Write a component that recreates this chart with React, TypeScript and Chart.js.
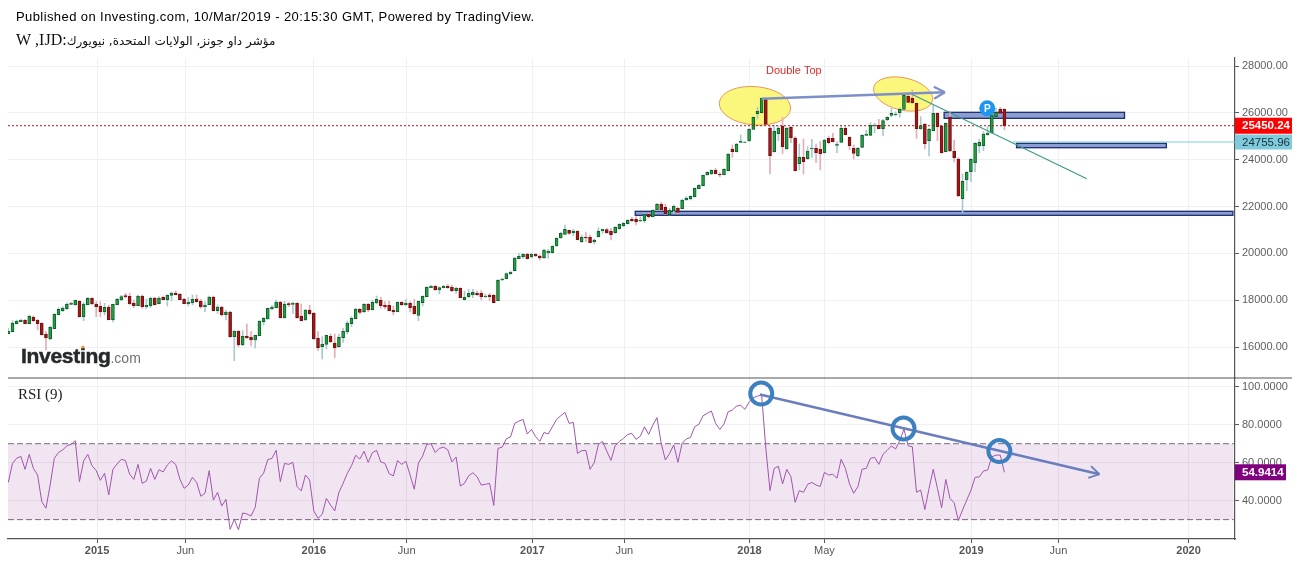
import React, { useEffect, useRef } from "react";
import { Chart, registerables } from "chart.js";

Chart.register(...registerables);

const opens = [16573,16659,17000,17085,17142,17000,17285,17142,17014,16545,16346,16787,17384,17555,17640,17825,17811,17953,17299,17811,18082,17840,17740,17498,17712,17171,17811,18010,18195,18167,17882,17769,18181,17726,17769,18096,17854,18124,18025,18210,18309,18267,18039,17854,17882,18053,17953,17726,17811,18138,17555,17712,17384,17498,16445,16687,16089,16459,16417,16303,16488,17085,17199,17640,17683,17925,17256,17854,17825,17868,17327,17157,17584,17455,16374,16018,16118,16459,16175,16018,16402,16659,17000,17214,17612,17512,17825,17598,17882,17996,17783,17783,17569,17512,17911,17811,17868,17740,17356,17897,18153,18537,18594,18437,18537,18594,18551,18409,18508,18025,18153,18238,18309,18295,18153,18224,18210,17982,18864,18921,19135,19263,19775,19860,19974,19846,19960,19889,19818,20017,20031,20316,20657,20814,20984,20871,20956,20501,20686,20686,20486,20714,20956,21013,20942,20885,21056,21184,21269,21454,21454,21383,21397,21667,21568,21852,22094,21966,21653,21824,21924,21909,22279,22322,22422,22763,22891,23346,23389,23546,23375,23361,23531,24457,24343,24741,24741,24798,25296,25965,26008,26577,25339,24343,25111,25438,24471,25381,24926,23830,24101,24044,24457,24485,24442,24300,24912,24912,24613,24741,25339,24955,24485,24158,24528,25040,25040,25453,25467,25325,25709,25894,25922,26008,26150,26705,26619,26406,25310,25509,24812,25239,25979,25438,24343,25823,24357,24030,22336,23133,23489,23873,24585,24599,25068,25154,25837,26150,26150];
const highs = [16801,17128,17157,17199,17185,17370,17327,17185,17043,16659,16900,17441,17683,17726,17897,17911,18010,17982,17897,18124,18110,17939,17939,17868,17783,17840,18096,18210,18295,18295,18010,18224,18224,18053,18138,18124,18153,18181,18238,18352,18395,18295,18082,18124,18224,18224,18039,17939,18181,18181,17797,17754,17584,17527,16701,16701,16701,16986,16659,16502,17128,17270,17669,17783,18010,17953,17953,17911,17925,17897,17840,17612,17783,17470,16659,16445,16502,16559,16559,16559,16801,17114,17299,17655,17655,17854,17868,18010,18181,18124,17939,17968,17754,17939,17939,18039,17939,18039,17982,18195,18580,18651,18637,18580,18651,18679,18651,18551,18537,18395,18466,18466,18395,18409,18267,18295,18252,18878,18935,19177,19248,19832,20003,20003,20003,20003,20003,19931,20173,20173,20330,20671,20899,21212,20999,21027,20970,20785,20913,20785,20614,21098,21027,21070,21070,21141,21269,21326,21440,21539,21568,21568,21710,21710,21867,22137,22180,22109,21924,22066,21952,22308,22422,22464,22806,22934,23346,23489,23574,23631,23446,23617,24272,24627,24698,25054,24770,25325,25837,26235,26634,26605,25438,25481,25438,25808,25381,25410,24983,24670,24883,24556,24869,24670,24770,24883,25011,25125,24770,25410,25410,24983,24627,24528,25068,25268,25581,25552,25723,25723,25837,26193,26050,26221,26762,26790,26975,26434,25837,25552,25339,26335,26008,25481,25581,26050,24841,24086,23389,23489,24044,24727,24869,25196,25410,25936,26193,26235,26178];
const lows = [16559,16659,16986,17071,16986,16986,17085,16730,16502,15876,16303,16787,17370,17512,17612,17811,17783,17270,17128,17797,17797,17299,17299,17370,17157,17071,17797,17982,18082,17825,17683,17754,17655,17626,17683,17797,17840,18010,17754,17982,18224,18010,17840,17754,17797,17911,17655,17512,17797,17541,17441,17327,17157,16417,15421,16018,16061,16374,16047,15961,16474,16943,17185,17584,17669,17228,17228,17726,17441,17228,17114,17128,17370,16303,15847,15492,15933,16189,15549,15990,16203,16559,16872,17199,17413,17470,17512,17584,17840,17655,17626,17541,17370,17498,17769,17769,17498,17398,17128,17754,18138,18523,18423,18267,18523,18508,18366,18295,18096,18010,18110,18110,18181,18010,18110,17982,17882,17968,18836,18907,19092,19248,19761,19789,19761,19803,19860,19718,19775,19789,20003,20301,20643,20785,20814,20757,20572,20458,20501,20444,20401,20700,20856,20856,20572,20856,21027,21141,21255,21354,21212,21354,21312,21525,21553,21824,21838,21667,21639,21710,21710,21895,22265,22279,22407,22749,22877,23332,23361,23389,23275,23346,23517,24101,24328,24727,24727,24784,25282,25737,25993,25495,23389,24314,24812,24257,24442,24727,23517,23560,23389,24015,24101,23873,23560,24272,24670,24755,24300,24727,25054,24414,24030,24129,24513,25026,25026,25154,25310,25026,25666,25837,25865,25808,26121,26434,26406,24912,25296,24457,24158,25225,24812,24272,24328,24343,23901,22422,21753,22678,23062,23489,24300,24385,25040,25125,25823,25951,25268];
const closes = [16673,17029,17114,17142,17000,17313,17128,17000,16530,16402,16844,17398,17612,17669,17825,17882,17996,17299,17840,18082,17854,17726,17498,17697,17171,17825,18039,18153,18153,17840,17769,18181,17726,17797,18082,17811,18096,18025,18210,18309,18238,18025,17854,17925,18039,17939,17712,17797,18138,17555,17712,17370,17498,16445,16687,16089,16459,16388,16303,16502,17114,17228,17655,17712,17925,17256,17840,17811,17882,17256,17128,17584,17427,16360,15976,16132,16502,16232,15961,16417,16673,17029,17228,17626,17484,17825,17584,17911,18039,17769,17712,17555,17498,17911,17811,17868,17683,17427,17953,18167,18551,18608,18437,18537,18594,18537,18409,18508,18110,18124,18295,18338,18238,18153,18181,18153,17897,18850,18907,19135,19191,19803,19874,19960,19775,19960,19889,19803,20145,20088,20301,20643,20856,21027,20856,20956,20586,20686,20657,20458,20572,20942,21027,20871,20799,21112,21240,21283,21411,21397,21340,21411,21667,21553,21838,22094,21852,21696,21838,22009,21753,22265,22365,22436,22777,22905,23332,23460,23546,23403,23346,23588,24229,24343,24670,24798,24755,25296,25808,26064,26619,25509,24172,25211,25339,24556,25339,24940,23531,24101,23916,24371,24485,24300,24257,24841,24727,24770,24670,25339,25068,24599,24272,24485,25040,25097,25467,25481,25325,25666,25808,25979,25951,26150,26748,26449,26420,25325,25453,24684,25296,25979,25410,24300,25552,24371,24086,22450,23076,23460,24015,24698,24741,25097,25140,25908,26022,25979,25450.24];
const rsiValues = [49.6,59.6,62.3,63.3,56.5,64.4,57.0,53.5,39.5,36.0,48.2,62.3,65.4,66.7,68.9,69.6,71.6,50.0,60.9,64.4,58.4,55.9,50.7,54.4,43.0,56.5,59.3,61.8,61.1,53.9,51.2,59.1,49.1,50.3,57.0,51.2,56.3,55.1,58.8,60.9,59.1,51.4,46.5,48.2,52.3,49.6,42.3,43.9,55.8,40.3,44.4,37.2,40.7,24.9,30.2,24.6,33.5,33.0,31.9,36.5,51.8,54.4,61.6,62.3,66.5,50.0,59.6,59.1,60.2,47.4,45.1,53.5,50.9,34.6,30.7,32.8,41.2,37.7,34.6,44.4,49.1,54.4,58.4,63.9,61.9,66.0,60.2,65.3,66.5,60.4,59.6,54.2,53.0,61.1,59.1,60.7,53.5,46.0,59.8,63.5,69.6,70.0,65.4,67.5,68.2,66.8,60.4,63.0,47.7,49.1,53.1,54.7,52.6,48.2,48.6,49.1,37.5,67.5,68.2,72.6,73.5,80.7,81.9,82.8,75.1,77.5,73.7,71.2,75.9,75.1,78.9,82.8,84.7,86.5,80.7,81.2,64.9,66.3,66.5,56.5,60.0,69.6,71.2,66.1,61.2,68.9,71.2,72.8,74.9,75.4,72.3,73.9,78.9,74.9,79.8,83.7,70.2,61.4,64.9,69.3,60.2,70.2,72.5,73.3,78.9,80.2,84.7,86.0,87.2,80.7,77.5,80.3,86.8,87.7,89.8,90.2,88.1,91.8,94.2,95.1,95.6,67.5,45.3,57.0,58.1,48.8,56.5,52.6,39.1,45.3,44.4,48.6,49.6,48.2,47.5,54.9,53.5,53.9,51.8,61.8,57.0,48.8,43.9,47.4,56.5,57.0,62.3,62.8,59.1,64.4,66.5,68.8,67.2,71.6,77.7,68.9,68.4,44.4,45.6,35.3,46.5,56.5,46.5,36.3,51.2,41.2,38.9,29.5,35.1,40.3,45.4,52.3,52.5,55.6,56.1,63.1,64.0,64.0,54.94];

const xTickWeeks = [21.2, 42.3, 73.0, 95.2, 125.2, 147.2, 177.1, 195.0, 230.1, 250.9, 282.0];
const xTickLabels = ["2015", "Jun", "2016", "Jun", "2017", "Jun", "2018", "May", "2019", "Jun", "2020"];
const priceTicks = [16000, 18000, 20000, 22000, 24000, 26000, 28000];
const rsiTicks = [40, 60, 80, 100];
const lastPrice = 25450.24;
const markedPrice = 24755.96;
const lastRsi = 54.9414;

const X_MIN = -0.07, X_MAX = 293.1;
// Drawings, in chart coordinates (week index, price or RSI)
const zones = [
  [149.8, 292.6, 21797, 21626],
  [223.6, 266.7, 26023, 25767],
  [240.9, 276.7, 24700, 24512],
];
const ellipses = [
  [178.4, 26301, 8.55, 820, 5],
  [213.8, 26805, 7.2, 690, 13],
];
const rsiCircles = [
  [179.9, 96.4],
  [213.9, 78.0],
  [236.8, 66.1],
];
const upperArrow = [{ x: 180.0, y: 26604 }, { x: 223.8, y: 26877 }];
const lowerArrow = [{ x: 179.6, y: 95.9 }, { x: 260.7, y: 53.9 }];
const fallingLine = [{ x: 215.9, y: 26792 }, { x: 257.7, y: 23189 }];
const pMarker = [233.9, 26194];
const doubleTop = [187.7, 27800];

const SANS = '"Liberation Sans", Arial, sans-serif';
const SERIF = '"Liberation Serif", "DejaVu Serif", serif';
const isUp = (i: number) => closes[i] >= opens[i];

const drawings = {
  id: "drawings",
  beforeDatasetsDraw(chart: any) {
    const { ctx, scales } = chart;
    const { x, y } = scales;
    ctx.save();
    ellipses.forEach(([k, p, rk, rp, rot]) => {
      const cx = x.getPixelForValue(k), cy = y.getPixelForValue(p);
      const rx = x.getPixelForValue(k + rk) - cx;
      const ry = cy - y.getPixelForValue(p + rp);
      ctx.beginPath();
      ctx.ellipse(cx, cy, rx, ry, (rot * Math.PI) / 180, 0, Math.PI * 2);
      ctx.fillStyle = "#fbf77c";
      ctx.fill();
      ctx.strokeStyle = "#e89560";
      ctx.lineWidth = 1;
      ctx.stroke();
    });
    zones.forEach(([k0, k1, p0, p1]) => {
      const l = x.getPixelForValue(k0), r = x.getPixelForValue(k1);
      const t = y.getPixelForValue(p0), b = y.getPixelForValue(p1);
      ctx.fillStyle = "#8c9dd3";
      ctx.fillRect(l, t, r - l, b - t);
      ctx.strokeStyle = "#1a2e6e";
      ctx.lineWidth = 1.3;
      ctx.strokeRect(l, t, r - l, b - t);
    });
    ctx.restore();
  },
  afterDatasetsDraw(chart: any) {
    const { ctx, scales, chartArea } = chart;
    const { x, y, rsi } = scales;
    ctx.save();

    // arrow heads
    const chevron = (pts: any[], scaleY: any, color: string, w: number, back: number, side: number) => {
      const ax = x.getPixelForValue(pts[0].x), ay = scaleY.getPixelForValue(pts[0].y);
      const bx = x.getPixelForValue(pts[1].x), by = scaleY.getPixelForValue(pts[1].y);
      const a = Math.atan2(by - ay, bx - ax);
      ctx.strokeStyle = color;
      ctx.lineWidth = w;
      ctx.beginPath();
      [-1, 1].forEach((s) => {
        ctx.moveTo(bx - back * Math.cos(a) + s * side * Math.sin(a), by - back * Math.sin(a) - s * side * Math.cos(a));
        ctx.lineTo(bx, by);
      });
      ctx.stroke();
    };
    chevron(upperArrow, y, "#7d90c8", 2.2, 11, 6);
    chevron(lowerArrow, rsi, "#6a7dbc", 1.8, 10, 6);

    // RSI circles
    rsiCircles.forEach(([k, v]) => {
      ctx.beginPath();
      ctx.arc(x.getPixelForValue(k), rsi.getPixelForValue(v), 11, 0, Math.PI * 2);
      ctx.strokeStyle = "#3d80bf";
      ctx.lineWidth = 4;
      ctx.stroke();
    });

    // P marker
    const px = x.getPixelForValue(pMarker[0]), py = y.getPixelForValue(pMarker[1]);
    ctx.beginPath();
    ctx.arc(px, py, 8, 0, Math.PI * 2);
    ctx.fillStyle = "#1e96f0";
    ctx.fill();
    ctx.fillStyle = "#fff";
    ctx.font = `bold 10px ${SANS}`;
    ctx.textAlign = "center";
    ctx.textBaseline = "middle";
    ctx.fillText("P", px, py + 0.5);

    // Double Top
    ctx.fillStyle = "#e02a2a";
    ctx.font = `11px ${SANS}`;
    ctx.fillText("Double Top", x.getPixelForValue(doubleTop[0]), y.getPixelForValue(doubleTop[1]));

    // Investing.com mark
    ctx.textAlign = "left";
    ctx.textBaseline = "alphabetic";
    ctx.fillStyle = "#26282b";
    ctx.strokeStyle = "#26282b";
    ctx.lineWidth = 0.5;
    ctx.font = `bold 21px ${SANS}`;
    (ctx as any).letterSpacing = "-0.3px";
    ctx.fillText("Investing", 21, 363);
    ctx.strokeText("Investing", 21, 363);
    const w = ctx.measureText("Investing").width;
    ctx.fillStyle = "#6d6f72";
    ctx.font = `14px ${SANS}`;
    (ctx as any).letterSpacing = "0px";
    ctx.fillText(".com", 21 + w, 363);
    ctx.beginPath();
    ctx.arc(83, 347, 1.6, 0, Math.PI * 2);
    ctx.fillStyle = "#f0a030";
    ctx.fill();

    // Pane separator
    const sep = rsi.top;
    ctx.strokeStyle = "#555";
    ctx.lineWidth = 1.2;
    ctx.beginPath();
    ctx.moveTo(chartArea.left, sep);
    ctx.lineTo(1292, sep);
    ctx.stroke();

    // Last value boxes on the axes
    const box = (label: string, cy: number, h: number, w2: number, bg: string, fg: string, bold: boolean) => {
      ctx.fillStyle = bg;
      ctx.fillRect(chartArea.right, cy - h / 2, w2, h);
      ctx.fillStyle = fg;
      ctx.font = `${bold ? "bold " : ""}11.5px ${SANS}`;
      ctx.textAlign = "left";
      ctx.textBaseline = "middle";
      ctx.fillText(label, chartArea.right + 7, cy + 0.5);
    };
    box(lastPrice.toFixed(2), y.getPixelForValue(lastPrice), 16, 57, "#ff0000", "#fff", true);
    box(markedPrice.toFixed(2), y.getPixelForValue(markedPrice), 15, 57, "#7fcbdc", "#17303a", false);
    box(lastRsi.toFixed(4), rsi.getPixelForValue(lastRsi), 16, 51, "#800080", "#fff", true);
    ctx.restore();
  },
};

export default function App() {
  const ref = useRef<HTMLCanvasElement | null>(null);

  useEffect(() => {
    const canvas = ref.current;
    if (!canvas) return;
    const weeks = closes.map((_, i) => i);
    const chart = new Chart(canvas, {
      type: "bar",
      data: {
        datasets: [
          {
            type: "line",
            data: lowerArrow,
            yAxisID: "rsi",
            borderColor: "#6a7dbc",
            borderWidth: 2.4,
            pointRadius: 0,
            order: 0,
          },
          {
            type: "line",
            data: upperArrow,
            yAxisID: "y",
            borderColor: "#7d90c8",
            borderWidth: 2.6,
            pointRadius: 0,
            order: 0,
          },
          {
            type: "line",
            data: fallingLine,
            yAxisID: "y",
            borderColor: "#3f9a8c",
            borderWidth: 1.2,
            pointRadius: 0,
            order: 0,
          },
          {
            type: "line",
            data: [{ x: 240, y: markedPrice }, { x: X_MAX, y: markedPrice }],
            yAxisID: "y",
            borderColor: "#7fcbdc",
            borderWidth: 1,
            pointRadius: 0,
            order: 1,
          },
          {
            type: "line",
            data: [{ x: X_MIN, y: lastPrice }, { x: X_MAX, y: lastPrice }],
            yAxisID: "y",
            borderColor: "#a01818",
            borderWidth: 1,
            borderDash: [2, 2],
            pointRadius: 0,
            order: 1,
          },
          {
            type: "line",
            data: weeks.map((k) => ({ x: k, y: rsiValues[k] })),
            yAxisID: "rsi",
            borderColor: "#a055ac",
            borderWidth: 1,
            pointRadius: 0,
            tension: 0,
            order: 2,
          },
          {
            type: "line",
            data: [{ x: X_MIN, y: 70 }, { x: X_MAX - 0.3, y: 70 }],
            yAxisID: "rsi",
            borderColor: "#7b6b80",
            borderWidth: 1,
            borderDash: [6, 3],
            pointRadius: 0,
            fill: { target: { value: 30 } },
            backgroundColor: "rgba(128,0,128,0.1)",
            order: 4,
          },
          {
            type: "line",
            data: [{ x: X_MIN, y: 30 }, { x: X_MAX - 0.3, y: 30 }],
            yAxisID: "rsi",
            borderColor: "#7b6b80",
            borderWidth: 1,
            borderDash: [6, 3],
            pointRadius: 0,
            order: 4,
          },
          {
            type: "bar",
            data: weeks.map((k) => ({ x: k, y: [opens[k], closes[k]] })),
            yAxisID: "y",
            grouped: false,
            barThickness: 3,
            borderWidth: 1,
            borderSkipped: false,
            backgroundColor: weeks.map((k) => (isUp(k) ? "#1fa23f" : "#a51616")),
            borderColor: weeks.map((k) => (isUp(k) ? "#12602e" : "#741010")),
            order: 5,
          },
          {
            type: "bar",
            data: weeks.map((k) => ({ x: k, y: [lows[k], highs[k]] })),
            yAxisID: "y",
            grouped: false,
            barThickness: 1,
            borderWidth: 0,
            backgroundColor: weeks.map((k) => (isUp(k) ? "#a9c9cf" : "#e3aeb6")),
            order: 6,
          },
        ] as any,
      },
      plugins: [drawings],
      options: {
        responsive: false,
        animation: false,
        devicePixelRatio: 1,
        layout: { padding: { left: 8, top: 58, right: 0, bottom: 0 } },
        plugins: { legend: { display: false }, tooltip: { enabled: false }, title: { display: false } },
        scales: {
          x: {
            type: "linear",
            min: X_MIN,
            max: X_MAX,
            offset: false,
            position: "bottom",
            grid: { color: "#f0eff1", offset: false, tickLength: 4, tickColor: "#555" },
            border: { color: "#555", width: 1.2 },
            afterBuildTicks: (s: any) => {
              s.ticks = xTickWeeks.map((value) => ({ value }));
            },
            afterFit: (s: any) => {
              s.height = 24;
            },
            ticks: {
              autoSkip: false,
              maxRotation: 0,
              padding: 1,
              color: "#555",
              font: (c: any) => ({
                family: SANS,
                size: 11,
                weight: /^\d/.test(xTickLabels[c.index] || "") ? "bold" : "normal",
              }),
              callback: (_v: any, i: number) => xTickLabels[i],
            },
          },
          y: {
            type: "linear",
            position: "right",
            stack: "panes",
            stackWeight: 320,
            min: 14680,
            max: 28342,
            grid: { color: "#f0eff1", tickLength: 4, tickColor: "#555" },
            border: { color: "#555", width: 1.2 },
            afterBuildTicks: (s: any) => {
              s.ticks = priceTicks.map((value) => ({ value }));
            },
            afterFit: (s: any) => {
              s.width = 64;
            },
            ticks: {
              autoSkip: false,
              padding: 3,
              color: "#5e5e5e",
              font: { family: SANS, size: 11 },
              callback: (v: any) => Number(v).toFixed(2),
            },
          },
          rsi: {
            type: "linear",
            position: "right",
            stack: "panes",
            stackWeight: 161,
            min: 19.8,
            max: 104.6,
            grid: { color: "#f0eff1", tickLength: 4, tickColor: "#555" },
            border: { color: "#555", width: 1.2 },
            afterBuildTicks: (s: any) => {
              s.ticks = rsiTicks.map((value) => ({ value }));
            },
            afterFit: (s: any) => {
              s.width = 64;
            },
            ticks: {
              autoSkip: false,
              padding: 3,
              color: "#5e5e5e",
              font: { family: SANS, size: 11 },
              callback: (v: any) => Number(v).toFixed(4),
            },
          },
        },
      } as any,
    });
    return () => chart.destroy();
  }, []);

  return (
    <div style={{ position: "absolute", left: 0, top: 0, width: 1299, height: 563, overflow: "hidden", background: "#fff" }}>
      <canvas ref={ref} width={1299} height={563} style={{ display: "block" }} />
      <div style={{ position: "absolute", left: 16, top: 9, fontFamily: SANS, fontSize: 13, letterSpacing: 0.41, color: "#000", whiteSpace: "nowrap" }}>
        Published on Investing.com, 10/Mar/2019 - 20:15:30 GMT, Powered by TradingView.
      </div>
      <div dir="rtl" style={{ position: "absolute", left: 16, top: 31, fontFamily: SERIF, fontSize: 16, lineHeight: "18px", color: "#111", whiteSpace: "nowrap" }}>
        <span style={{ fontFamily: '"DejaVu Sans", sans-serif', fontSize: 12 }}>مؤشر داو جونز, الولايات المتحدة, نيويورك</span>
        {":IJD\u200F, W"}
      </div>
      <div style={{ position: "absolute", left: 18, top: 386, fontFamily: SERIF, fontSize: 15, color: "#222", whiteSpace: "nowrap" }}>
        RSI (9)
      </div>
    </div>
  );
}
